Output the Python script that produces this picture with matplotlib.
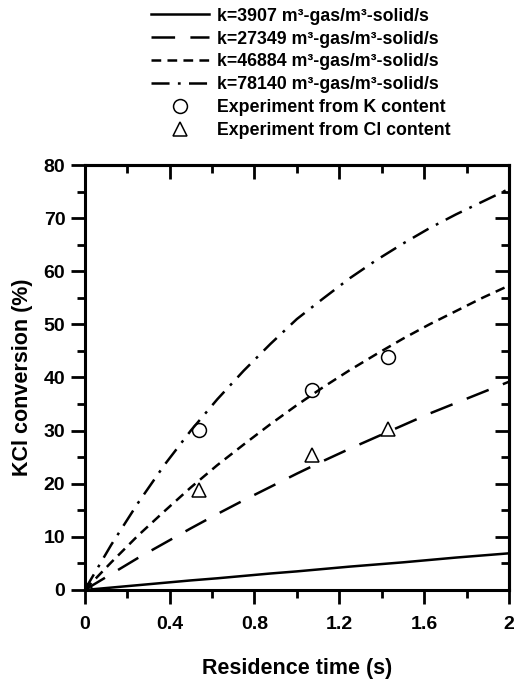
import matplotlib
matplotlib.use("Agg")
import matplotlib.pyplot as plt

plt.rcParams['font.family'] = ['Liberation Sans', 'DejaVu Sans']
plt.rcParams['font.weight'] = 'bold'
plt.rcParams['lines.scale_dashes'] = False

# model curves
t_model = [0, 0.125, 0.25, 0.375, 0.5, 0.625, 0.75, 0.875, 1.0,
           1.125, 1.25, 1.375, 1.5, 1.625, 1.75, 1.875, 2.0]
conv_k3907 = [0, 0.45, 0.9, 1.35, 1.8, 2.2, 2.65, 3.1, 3.5,
              3.95, 4.4, 4.8, 5.2, 5.65, 6.1, 6.5, 6.9]
conv_k27349 = [0, 3.0, 6.0, 8.8, 11.6, 14.3, 16.9, 19.4, 21.9,
               24.3, 26.6, 28.8, 31.0, 33.2, 35.2, 37.2, 39.2]
conv_k46884 = [0, 5.2, 10.2, 14.8, 19.3, 23.5, 27.4, 31.2, 34.8,
               38.2, 41.4, 44.4, 47.3, 50.0, 52.5, 55.0, 57.3]
conv_k78140 = [0, 8.5, 16.3, 23.5, 30.0, 35.9, 41.3, 46.3, 51.0,
               54.9, 58.7, 62.1, 65.2, 68.1, 70.7, 73.1, 75.5]

# experiments
t_exp = [0, 0.54, 1.07, 1.43]
conv_K = [0, 30.2, 37.6, 43.9]
conv_Cl = [0, 18.8, 25.5, 30.3]

labels = ['k=3907 m³-gas/m³-solid/s', 'k=27349 m³-gas/m³-solid/s',
          'k=46884 m³-gas/m³-solid/s', 'k=78140 m³-gas/m³-solid/s',
          'Experiment from K content', 'Experiment from Cl content']
xticks = [0, 0.4, 0.8, 1.2, 1.6, 2.0]
xticklabels = ['0', '0.4', '0.8', '1.2', '1.6', '2']
xminor = [0.2, 0.6, 1.0, 1.4, 1.8]
yticks = list(range(0, 81, 10))
yminor = list(range(5, 80, 10))

fig = plt.figure(figsize=(5.15, 6.83), dpi=100)
ax = fig.add_axes([0.1645, 0.1362, 0.8238, 0.6222])

lw = 1.8
l1, = ax.plot(t_model, conv_k3907, color='black', lw=lw, linestyle='-')
l2, = ax.plot(t_model, conv_k27349, color='black', lw=lw, dashes=(17, 11))
l3, = ax.plot(t_model, conv_k46884, color='black', lw=lw, dashes=(7, 4.5))
l4, = ax.plot(t_model, conv_k78140, color='black', lw=lw, dashes=(13, 6, 2, 6))
p1, = ax.plot(t_exp, conv_K, 'o', mfc='none', mec='black', ms=10, mew=1.1)
p2, = ax.plot(t_exp, conv_Cl, '^', mfc='none', mec='black', ms=10, mew=1.1)

ax.set_xlim(0, 2)
ax.set_ylim(0, 80)
ax.set_xticks(xticks)
ax.set_xticklabels(xticklabels)
ax.set_xticks(xminor, minor=True)
ax.set_yticks(yticks)
ax.set_yticks(yminor, minor=True)
ax.tick_params(which='major', direction='out', length=10, width=2, labelsize=14)
ax.tick_params(axis='x', which='major', pad=9)
ax.tick_params(axis='y', which='major', pad=4)
ax.tick_params(which='minor', direction='out', length=6, width=2)
for s in ax.spines.values():
    s.set_linewidth(2.2)

# inward ticks on top and right
top = ax.secondary_xaxis('top')
top.set_xticks(xticks)
top.set_xticks(xminor, minor=True)
top.tick_params(which='major', direction='in', length=10, width=2, labeltop=False)
top.tick_params(which='minor', direction='in', length=6, width=2)
top.spines['top'].set_linewidth(2.2)
right = ax.secondary_yaxis('right')
right.set_yticks(yticks)
right.set_yticks(yminor, minor=True)
right.tick_params(which='major', direction='in', length=10, width=2, labelright=False)
right.tick_params(which='minor', direction='in', length=6, width=2)
right.spines['right'].set_linewidth(2.2)

ax.set_xlabel('Residence time (s)', fontsize=15.5, fontweight='bold', labelpad=18)
ax.set_ylabel('KCl conversion (%)', fontsize=15.5, fontweight='bold', labelpad=8)

fig.legend([l1, l2, l3, l4, p1, p2], labels, loc='upper left',
           bbox_to_anchor=(140 / 515, 686 / 683), frameon=False,
           prop={'size': 12.8, 'weight': 'bold'},
           handlelength=3.3, handletextpad=0.45, labelspacing=0.33,
           borderpad=0.1)

plt.savefig('out.png', dpi=100)
